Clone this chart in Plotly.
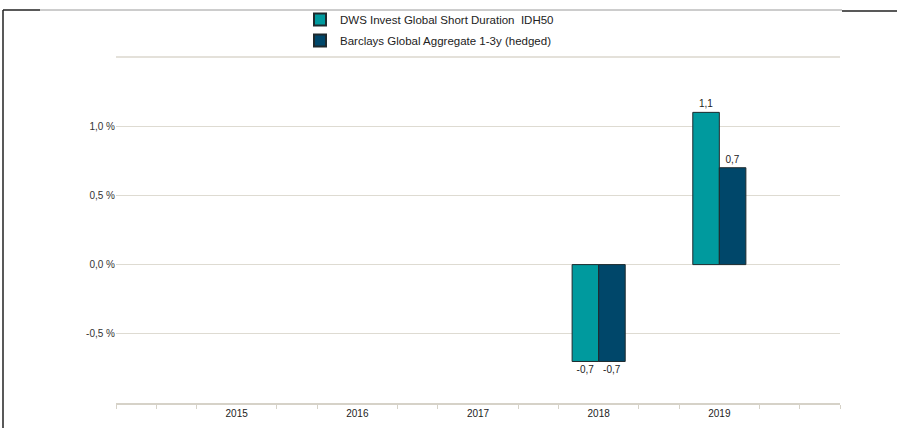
import plotly.graph_objects as go

years = [2015, 2016, 2017, 2018, 2019]
fund = [None, None, None, -0.7, 1.1]
bench = [None, None, None, -0.7, 0.7]
fund_name = "DWS Invest Global Short Duration  IDH50"
bench_name = "Barclays Global Aggregate 1-3y (hedged)"
y_ticks = [-0.5, 0.0, 0.5, 1.0]
y_ticktext = ["-0,5 %", "0,0 %", "0,5 %", "1,0 %"]
minor_x = [2014 + i / 3 for i in range(19) if i % 3 != 0 or i in (0, 18)]

W, H = 897, 428
L, R, T, B = 116, 57, 57, 25
pw, ph = W - L - R, H - T - B

def px(x):
    return (x - L) / pw

def py(y):
    return (H - B - y) / ph

fig = go.Figure()
fig.add_bar(x=years, y=fund, name=fund_name, legendgroup="a",
            marker=dict(color="#009a9e", line=dict(color="#1e2a2e", width=1)),
            texttemplate="%{y:.1f}", textposition="outside",
            textfont=dict(size=10, color="#222"), cliponaxis=False)
fig.add_bar(x=years, y=bench, name=bench_name, legendgroup="b",
            marker=dict(color="#00476a", line=dict(color="#1e2a2e", width=1)),
            texttemplate="%{y:.1f}", textposition="outside",
            textfont=dict(size=10, color="#222"), cliponaxis=False)

line_gray = "#9a9a9a"
dark = "#222222"
shapes = [
    # top edge of plot area (gridline at 1,5 %)
    dict(type="line", xref="paper", yref="paper", x0=0, x1=1, y0=1, y1=1,
         line=dict(color="#e4e1da", width=2), layer="below"),
    dict(type="line", xref="paper", yref="paper", x0=px(3), x1=px(3), y0=py(10), y1=py(430),
         line=dict(color=dark, width=1.5)),
    dict(type="line", xref="paper", yref="paper", x0=px(3), x1=px(40), y0=py(10), y1=py(10),
         line=dict(color=dark, width=1.5)),
    dict(type="line", xref="paper", yref="paper", x0=px(40), x1=px(842), y0=py(10), y1=py(10),
         line=dict(color=line_gray, width=1)),
    dict(type="line", xref="paper", yref="paper", x0=px(842), x1=px(897), y0=py(11), y1=py(11),
         line=dict(color=dark, width=1.5)),
]

fig.update_layout(
    width=W, height=H,
    margin=dict(l=L, r=R, t=T, b=B, autoexpand=False),
    paper_bgcolor="white", plot_bgcolor="white",
    font=dict(family="Liberation Sans, Arial, sans-serif", size=10, color="#333"),
    separators=", ",
    barmode="group", bargap=0.56, bargroupgap=0,
    hovermode=False,
    showlegend=True,
    legend=dict(x=px(300), y=py(5), xanchor="left", yanchor="top",
                font=dict(size=11.5, color="#222"), bgcolor="rgba(0,0,0,0)",
                traceorder="grouped", tracegroupgap=2, itemsizing="constant"),
    shapes=shapes,
    xaxis=dict(range=[2014, 2020], tickvals=years, ticktext=[str(y) for y in years],
               ticks="", showgrid=False, zeroline=False,
               showline=True, linecolor="#d6d2c8", linewidth=2,
               tickfont=dict(size=10, color="#222"),
               minor=dict(tickvals=minor_x, ticks="outside", ticklen=4,
                          tickcolor="#d6d2c8", tickwidth=1, showgrid=False)),
    yaxis=dict(range=[-1.0, 1.5], tickvals=y_ticks, ticktext=y_ticktext,
               showgrid=True, gridcolor="#dedbd2", gridwidth=1.2,
               zeroline=False, showline=False, ticks="",
               tickfont=dict(size=10, color="#333")),
)

fig.write_html("out.html", config={"displayModeBar": False, "staticPlot": True},
               post_script="document.body.style.margin='0';document.body.style.overflow='hidden';")
